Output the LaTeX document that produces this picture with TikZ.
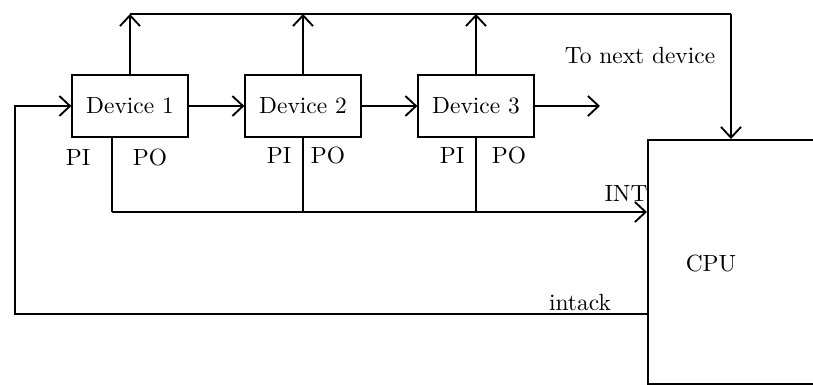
\documentclass[tikz,border=0pt]{standalone}
\usepackage{tikz}
\usetikzlibrary{positioning, arrows.meta, calc}
\tikzset{
  devbox/.style={draw, line width=0.8pt, minimum width=1.73cm, minimum height=0.92cm},
  wire/.style={line width=0.8pt},
  >={Straight Barb[length=1.6mm, width=3mm]}
}

\begin{document}
\begin{tikzpicture}[x=0.015cm, y=-0.015cm]
  \clip (0,0) rectangle (813,384);
  % devices in the chain
  \node[devbox] (dev1) at (130,106) {Device 1};
  \node[devbox] (dev2) at (303,106) {Device 2};
  \node[devbox] (dev3) at (476,106) {Device 3};
  \node[draw, line width=0.8pt, anchor=north west, minimum width=4cm, minimum height=3.66cm] (cpu) at (647,139) {};
  \node (cpulbl) at (711,263) {CPU};
  % bus on top
  \coordinate (busL) at (130,14);
  \coordinate (busR) at (731,14);
  \draw[wire] (busL) -- (busR);
  \draw[wire,->] (busR) -- (busR |- cpu.north);
  \foreach \d in {dev1,dev2,dev3}
    \draw[wire,->] (\d.north) -- (\d.north |- busL);
  \node (nxtlbl) at (640,55) {To next device};
  % priority chain
  \coordinate (nxt) at (600,106);
  \draw[wire,->] (dev1) -- (dev2);
  \draw[wire,->] (dev2) -- (dev3);
  \draw[wire,->] (dev3.east) -- (nxt);
  \node (pi1) at (78,157) {PI};
  \node (po1) at (150,157) {PO};
  \node (pi2) at (279,155) {PI};
  \node (po2) at (328,155) {PO};
  \node (pi3) at (452,155) {PI};
  \node (po3) at (509,155) {PO};
  % INT line
  \coordinate (tap1) at ([xshift=-0.27cm]dev1.south);
  \coordinate (intL) at (tap1 |- 0,212);
  \draw[wire] (tap1) -- (intL);
  \draw[wire,->] (intL) -- (intL -| cpu.west);
  \draw[wire] (dev2.south) -- (dev2.south |- intL);
  \draw[wire] (dev3.south) -- (dev3.south |- intL);
  \node (intlbl) at (626,193) {INT};
  % intack back to device 1
  \coordinate (ack) at (cpu.west |- 0,314);
  \coordinate (ackL) at (15,314);
  \draw[wire,->] (ack) -- (ackL) |- (dev1.west);
  \node (acklbl) at (580,302) {intack};
\end{tikzpicture}
\end{document}
